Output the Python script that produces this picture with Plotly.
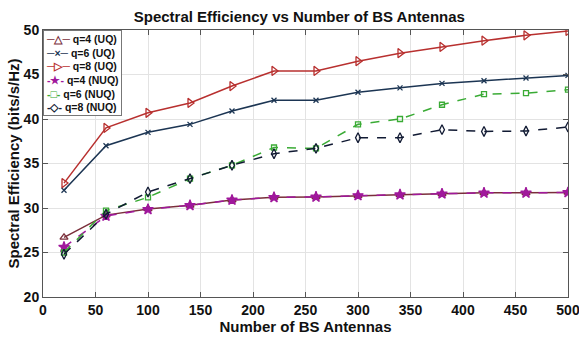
import plotly.graph_objects as go

antennas = [20, 60, 100, 140, 180, 220, 260, 300, 340, 380, 420, 460, 500]
q4_uq = [26.7, 29.2, 29.9, 30.3, 30.9, 31.2, 31.25, 31.4, 31.5, 31.6, 31.7, 31.7, 31.75]
q6_uq = [32.0, 37.0, 38.5, 39.4, 40.9, 42.1, 42.1, 43.0, 43.5, 44.0, 44.3, 44.6, 44.9]
q8_uq = [32.8, 39.0, 40.7, 41.8, 43.7, 45.4, 45.4, 46.5, 47.4, 48.1, 48.8, 49.4, 49.9]
q4_nuq = [25.6, 29.1, 29.85, 30.3, 30.9, 31.2, 31.25, 31.4, 31.5, 31.6, 31.7, 31.7, 31.75]
q6_nuq = [25.0, 29.7, 31.2, 33.3, 34.8, 36.8, 36.7, 39.4, 40.0, 41.6, 42.8, 42.9, 43.3]
q8_nuq = [24.8, 29.3, 31.8, 33.3, 34.8, 36.1, 36.7, 37.9, 37.9, 38.8, 38.6, 38.65, 39.1]

# name, values, color, dash, marker symbol, marker size, legend glyph
series = [
    ("q=4 (UQ)", q4_uq, "#7a2e3a", "solid", "triangle-up-open", 7, "─△─"),
    ("q=6 (UQ)", q6_uq, "#1c3553", "solid", "x-thin", 5, "─×─"),
    ("q=8 (UQ)", q8_uq, "#b8302f", "solid", "triangle-right-open", 8, "─▷─"),
    ("q=4 (NUQ)", q4_nuq, "#a0189c", "dash", "star", 8, "-★-"),
    ("q=6 (NUQ)", q6_nuq, "#3aab35", "dash", "square-open", 5, "-□-"),
    ("q=8 (NUQ)", q8_nuq, "#111a33", "dash", "diamond-tall-open", 7, "-◇-"),
]

FONT = "Arial, Liberation Sans, sans-serif"

fig = go.Figure()
for name, ys, color, dash, sym, size, glyph in series:
    fig.add_trace(go.Scatter(
        x=antennas, y=ys, name=name, mode="lines+markers",
        line=dict(color=color, width=1.5, dash=dash),
        marker=dict(symbol=sym, size=size, color=color,
                    line=dict(color=color, width=1.3)),
        showlegend=False,
    ))

legend_text = "<br>".join(
    f'<span style="color:{color}"><b>{glyph}</b></span> <b>{name}</b>'
    for name, ys, color, dash, sym, size, glyph in series
)
fig.add_annotation(
    text=legend_text, xref="paper", yref="paper", x=0.0, y=1.0,
    xanchor="left", yanchor="top", align="left", showarrow=False,
    bgcolor="white", bordercolor="#777777", borderwidth=1, borderpad=2,
    font=dict(family=FONT, size=10.5, color="#111111"),
)

axis_common = dict(
    showgrid=True, gridcolor="#e3e3e3", gridwidth=1,
    showline=True, linecolor="#555555", linewidth=1, mirror="ticks",
    ticks="inside", ticklen=5, tickcolor="#555555",
    zeroline=False, automargin=False, ticklabeloverflow="allow",
    tickfont=dict(family=FONT, size=14, color="#111111", weight="bold"),
)

fig.update_layout(
    width=579, height=338,
    margin=dict(l=43, r=11, t=30, b=41),
    paper_bgcolor="white", plot_bgcolor="white",
    title=dict(text="<b>Spectral Efficiency vs Number of BS Antennas</b>",
               x=0.517, xanchor="center", y=0.95, yanchor="middle",
               font=dict(family=FONT, size=15, color="#111111")),
    xaxis=dict(range=[0, 500], tickmode="array", tickvals=list(range(0, 501, 50)),
               title=dict(text="<b>Number of BS Antennas</b>", standoff=2,
                          font=dict(family=FONT, size=15, color="#111111")),
               **axis_common),
    yaxis=dict(range=[20, 50], tickmode="array", tickvals=list(range(20, 51, 5)),
               title=dict(text="<b>Spectral Efficiency (bits/s/Hz)</b>", standoff=0,
                          font=dict(family=FONT, size=15, color="#111111")),
               **axis_common),
    showlegend=False,
)

fig.write_html("out.html", config={"displayModeBar": False},
               post_script="document.body.style.margin='0';document.body.style.overflow='hidden';")
